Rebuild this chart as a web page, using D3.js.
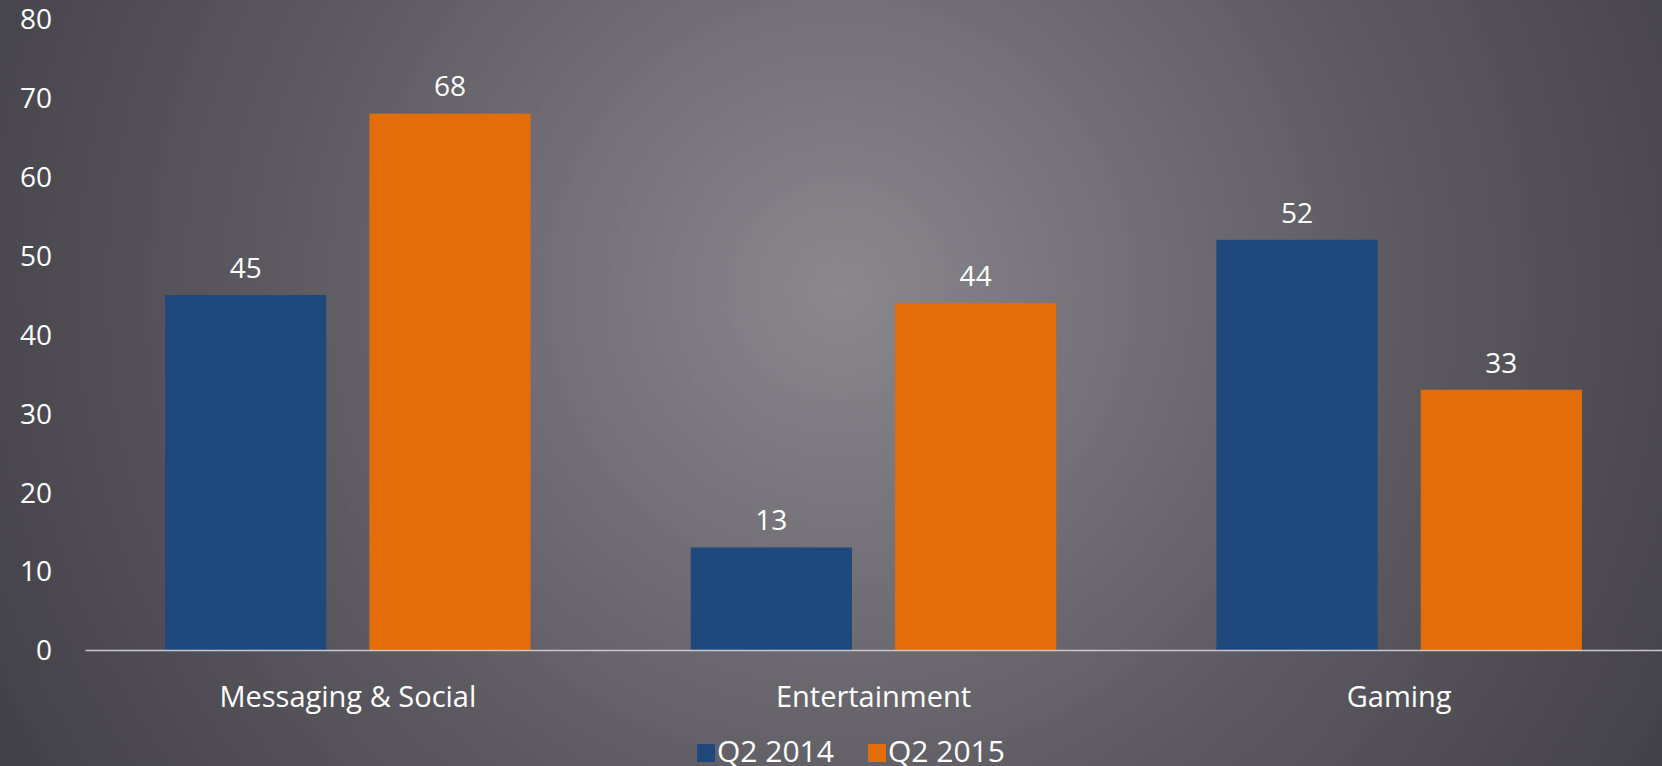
<!DOCTYPE html>
<html>
<head>
<meta charset="utf-8">
<script src="https://cdn.jsdelivr.net/npm/d3@7"></script>
<style>
html,body{margin:0;padding:0;overflow:hidden;background:#45434a;}
svg{display:block;}
text{font-family:"Open Sans",sans-serif;fill:#ffffff;}
</style>
</head>
<body>
<script>
const categories = ["Messaging & Social", "Entertainment", "Gaming"];
const seriesNames = ["Q2 2014", "Q2 2015"];
const q2014 = [45, 13, 52];
const q2015 = [68, 44, 33];
const yTicks = [0, 10, 20, 30, 40, 50, 60, 70, 80];
const seriesColors = ["#1f487c", "#e36c0b"];

const W = 1662, H = 766;
const svg = d3.select("body").append("svg").attr("width", W).attr("height", H);

const defs = svg.append("defs");
const grad = defs.append("radialGradient").attr("id", "bg")
  .attr("gradientUnits", "userSpaceOnUse")
  .attr("cx", 840).attr("cy", 290).attr("r", 1000);
grad.append("stop").attr("offset", "0%").attr("stop-color", "#8a888d");
grad.append("stop").attr("offset", "55%").attr("stop-color", "#5d5b61");
grad.append("stop").attr("offset", "100%").attr("stop-color", "#403e45");
svg.append("rect").attr("width", W).attr("height", H).attr("fill", "url(#bg)");

const x0 = d3.scaleBand().domain(categories).range([85, 1662]).padding(0);
const x1 = d3.scaleBand().domain(seriesNames).range([0, x0.bandwidth()])
  .paddingInner(0.211).paddingOuter(0.392);
const y = d3.scaleLinear().domain([0, 80]).range([650, 19]);

const data = categories.map((c, i) => ({cat: c, vals: [q2014[i], q2015[i]]}));

// y tick labels
const yAxis = d3.axisLeft(y).tickValues(yTicks).tickSize(0).tickPadding(0);
const gy = svg.append("g").attr("transform", "translate(52,0)").call(yAxis);
gy.select(".domain").remove();
gy.selectAll("text").attr("font-size", 28).attr("fill", "#ffffff")
  .attr("font-family", "'Open Sans',sans-serif").attr("dy", "0.35em");

// bars
const groups = svg.append("g").selectAll("g").data(data).join("g")
  .attr("transform", d => `translate(${x0(d.cat)},0)`);
groups.selectAll("rect").data(d => d.vals.map((v, j) => ({s: seriesNames[j], v, j})))
  .join("rect")
  .attr("x", d => x1(d.s))
  .attr("width", x1.bandwidth())
  .attr("y", d => y(d.v))
  .attr("height", d => y(0) - y(d.v))
  .attr("fill", d => seriesColors[d.j]);
groups.selectAll("text").data(d => d.vals.map((v, j) => ({s: seriesNames[j], v, j})))
  .join("text")
  .attr("x", d => x1(d.s) + x1.bandwidth() / 2)
  .attr("y", d => y(d.v) - 27)
  .attr("dy", "0.35em")
  .attr("text-anchor", "middle")
  .attr("font-size", 28)
  .text(d => d.v);

// x axis
const xAxis = d3.axisBottom(x0).tickSize(0).tickPadding(0);
const gx = svg.append("g").attr("transform", `translate(0,${y(0)})`).call(xAxis);
gx.select(".domain").attr("stroke", "#c8c8cc").attr("stroke-width", 1.5);
gx.selectAll("text").attr("font-size", 29).attr("fill", "#ffffff")
  .attr("font-family", "'Open Sans',sans-serif")
  .attr("y", 47).attr("dy", "0.35em");

// legend
const legend = svg.append("g");
const legendX = [697, 868];
seriesNames.forEach((s, i) => {
  const g = legend.append("g").attr("transform", `translate(${legendX[i]},0)`);
  g.append("rect").attr("x", 0).attr("y", 744).attr("width", 18).attr("height", 18)
    .attr("fill", seriesColors[i]);
  g.append("text").attr("x", 20).attr("y", 762)
    .attr("font-size", 30).text(s);
});
</script>
</body>
</html>
